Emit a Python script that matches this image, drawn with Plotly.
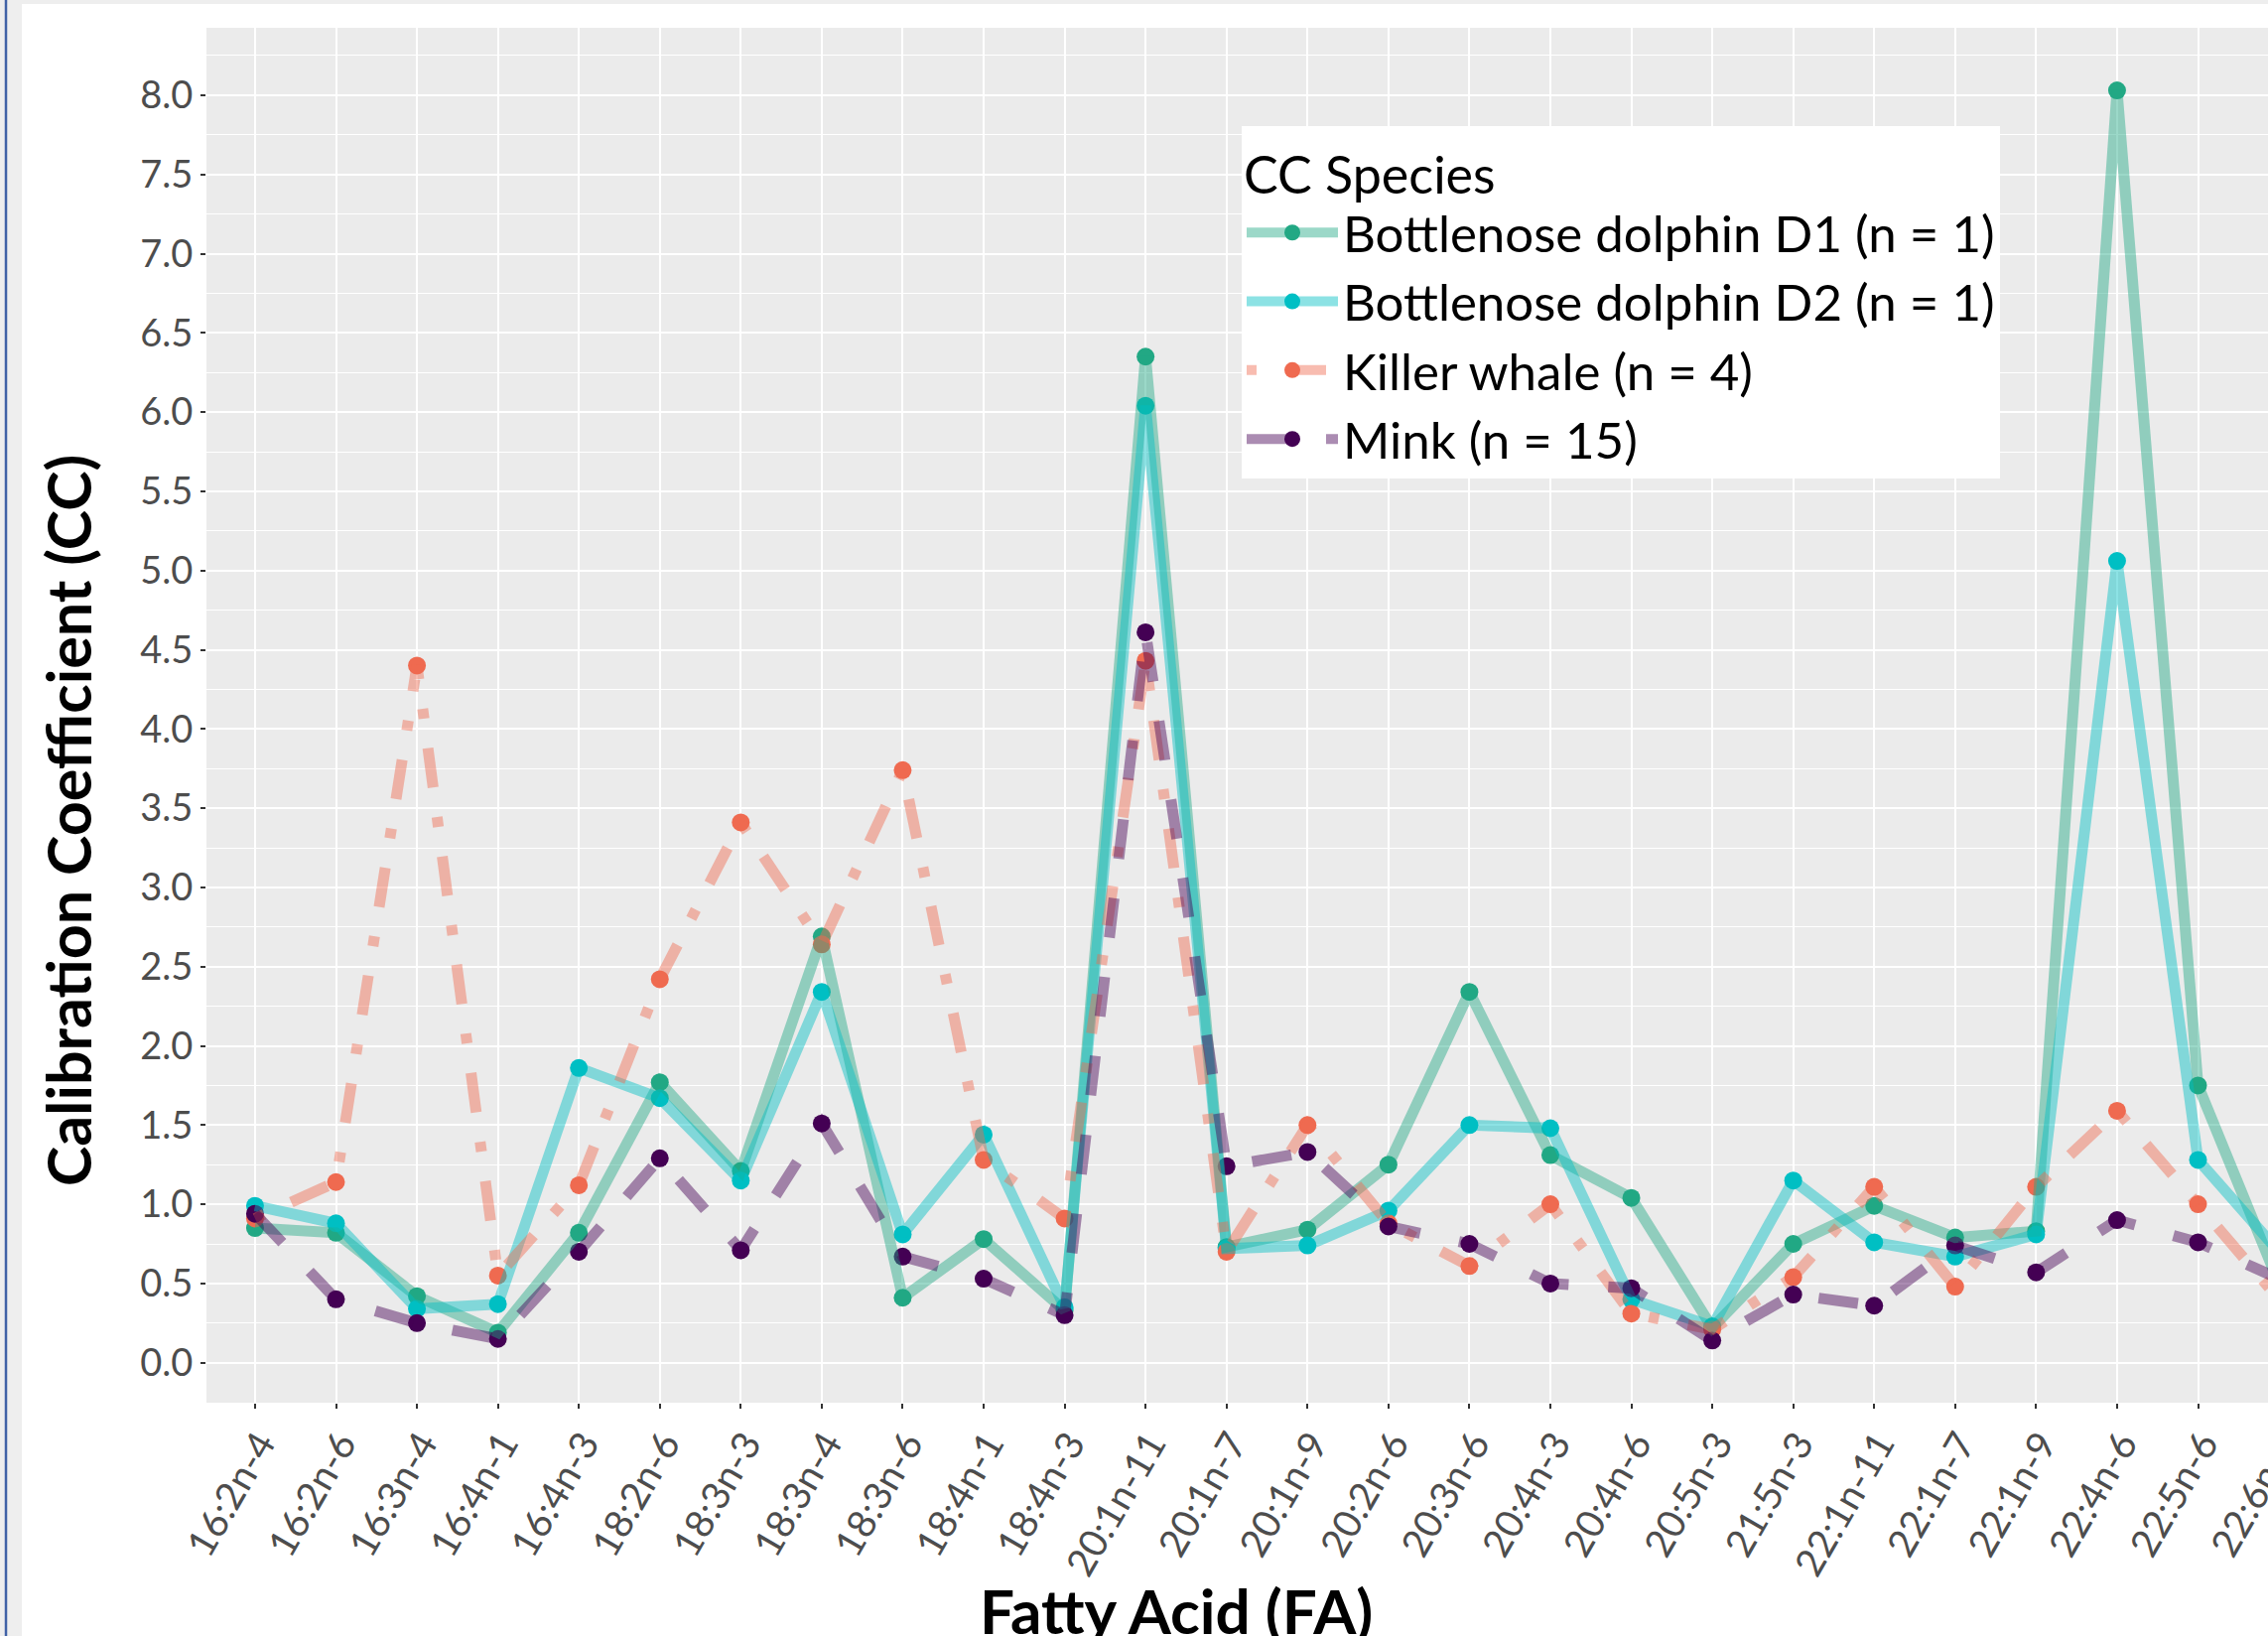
import plotly.graph_objects as go

categories = ["16:2n-4", "16:2n-6", "16:3n-4", "16:4n-1", "16:4n-3", "18:2n-6", "18:3n-3",
              "18:3n-4", "18:3n-6", "18:4n-1", "18:4n-3", "20:1n-11", "20:1n-7", "20:1n-9",
              "20:2n-6", "20:3n-6", "20:4n-3", "20:4n-6", "20:5n-3", "21:5n-3", "22:1n-11",
              "22:1n-7", "22:1n-9", "22:4n-6", "22:5n-6", "22:6n-3"]

dolphin_d1 = [0.85, 0.82, 0.42, 0.19, 0.82, 1.77, 1.21, 2.69, 0.41, 0.78, 0.33, 6.35, 0.73,
              0.84, 1.25, 2.34, 1.31, 1.04, 0.22, 0.75, 0.99, 0.79, 0.83, 8.03, 1.75, 0.50]
dolphin_d2 = [0.99, 0.88, 0.34, 0.37, 1.86, 1.67, 1.15, 2.34, 0.81, 1.44, 0.35, 6.04, 0.72,
              0.74, 0.96, 1.50, 1.48, 0.40, 0.23, 1.15, 0.76, 0.67, 0.81, 5.06, 1.28, 0.70]
killer_whale = [0.91, 1.14, 4.40, 0.55, 1.12, 2.42, 3.41, 2.64, 3.74, 1.28, 0.91, 4.43, 0.70,
                1.50, 0.88, 0.61, 1.00, 0.31, 0.21, 0.54, 1.11, 0.48, 1.11, 1.59, 1.00, 0.40]
mink = [0.94, 0.40, 0.25, 0.15, 0.70, 1.29, 0.71, 1.51, 0.67, 0.53, 0.30, 4.61, 1.24,
        1.33, 0.86, 0.75, 0.50, 0.47, 0.14, 0.43, 0.36, 0.74, 0.57, 0.90, 0.76, 0.53]

series_names = ["Bottlenose dolphin D1 (n = 1)", "Bottlenose dolphin D2 (n = 1)",
                "Killer whale (n = 4)", "Mink (n = 15)"]
series_values = [dolphin_d1, dolphin_d2, killer_whale, mink]
colors = ["#22A884", "#00BFC4", "#EF6A50", "#440154"]
line_rgba = ["rgba(34,168,132,0.45)", "rgba(0,191,196,0.45)",
             "rgba(239,106,80,0.45)", "rgba(68,1,84,0.45)"]
dashes = ["solid", "solid", "10px,30px,40px,30px", "40px,40px"]

W, H = 2400, 1700
ML, MR, MT, MB = 208, 55, 28, 287
PW, PH = W - ML - MR, H - MT - MB


def px_x(p):
    return (p - ML) / PW


def px_y(p):
    return 1 - (p - MT) / PH


fig = go.Figure()

# points first (drawn beneath the lines, as in the reference)
for name, vals, c in zip(series_names, series_values, colors):
    fig.add_trace(go.Scatter(x=categories, y=vals, mode="markers", name=name,
                             marker=dict(color=c, size=18), showlegend=False,
                             hoverinfo="skip"))
# lines on top
for name, vals, lc, d in zip(series_names, series_values, line_rgba, dashes):
    fig.add_trace(go.Scatter(x=categories, y=vals, mode="lines", name=name,
                             line=dict(color=lc, width=11, dash=d), showlegend=False))
# legend entries
for i, (name, c, lc, d) in enumerate(zip(series_names, colors, line_rgba, dashes)):
    fig.add_trace(go.Scatter(x=[None], y=[None], mode="lines+markers", name=name,
                             legendgroup=f"g{i}",
                             line=dict(color=lc, width=11, dash=d),
                             marker=dict(color=c, size=18)))

font_family = "Lato"
shapes = [
    dict(type="rect", xref="paper", yref="paper", x0=px_x(0), x1=px_x(22),
         y0=px_y(H), y1=px_y(0), fillcolor="#EEEEEE", line=dict(width=0), layer="above"),
    dict(type="rect", xref="paper", yref="paper", x0=px_x(0), x1=px_x(W),
         y0=px_y(4), y1=px_y(0), fillcolor="#EEEEEE", line=dict(width=0), layer="above"),
    dict(type="line", xref="paper", yref="paper", x0=px_x(6), x1=px_x(6),
         y0=px_y(H), y1=px_y(0), line=dict(color="#4062A6", width=2.5), layer="above"),
]

annotations = [
    dict(text="<b>Calibration Coefficient (CC)</b>", xref="paper", yref="paper",
         x=px_x(68), y=px_y(827), xanchor="center", yanchor="middle", textangle=-90,
         showarrow=False, font=dict(family=font_family, size=61, color="black")),
    dict(text="<b>Fatty Acid (FA)</b>", xref="paper", yref="paper",
         x=px_x(1185), y=px_y(1622), xanchor="center", yanchor="middle",
         showarrow=False, font=dict(family=font_family, size=62, color="black")),
]

fig.update_layout(
    width=W, height=H,
    margin=dict(l=ML, r=MR, t=MT, b=MB, autoexpand=False),
    paper_bgcolor="white", plot_bgcolor="#EBEBEB",
    font=dict(family=font_family, color="#4D4D4D"),
    shapes=shapes, annotations=annotations,
    showlegend=True,
    legend=dict(x=px_x(1251), y=px_y(127), xanchor="left", yanchor="top",
                bgcolor="white", borderwidth=0, tracegroupgap=0, itemwidth=92,
                font=dict(family=font_family, size=51, color="black"),
                title=dict(text="CC Species", font=dict(family=font_family, size=52, color="black"))),
    xaxis=dict(type="category", range=[-0.6, len(categories) - 0.4],
               showgrid=True, gridcolor="white", gridwidth=2, zeroline=False, showline=False,
               ticks="outside", ticklen=5, tickwidth=1.5, tickcolor="#333333",
               tickangle=-60, tickfont=dict(family=font_family, size=39, color="#4D4D4D"),
               ticklabelstandoff=-3, ticklabelshift=5,
               automargin=False),
    yaxis=dict(range=[-0.2525, 8.4254], tick0=0, dtick=0.5, tickformat=".1f",
               showgrid=True, gridcolor="white", gridwidth=2, zeroline=False, showline=False,
               ticks="outside", ticklen=5, tickwidth=1.5, tickcolor="#333333",
               tickfont=dict(family=font_family, size=38, color="#4D4D4D"),
               minor=dict(dtick=0.25, tick0=0, showgrid=True, gridcolor="white", gridwidth=1),
               automargin=False),
)

fig.write_html("out.html", config={"displayModeBar": False},
               post_script="document.documentElement.style.overflow='hidden';"
               "document.body.style.margin='0';document.body.style.overflow='hidden';")
